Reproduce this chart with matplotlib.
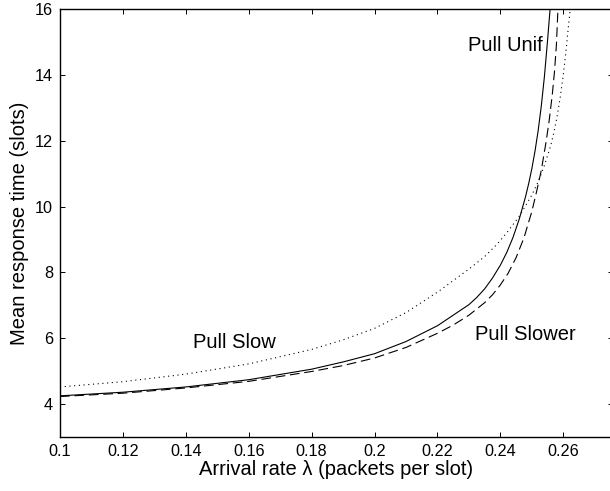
import numpy as np
import matplotlib
matplotlib.use("Agg")
import matplotlib.pyplot as plt

plt.rcParams['font.family'] = ['Liberation Sans', 'DejaVu Sans']
plt.rcParams['lines.scale_dashes'] = False

# Pull Unif (solid)
x_unif = [0.10, 0.12, 0.14, 0.16, 0.18, 0.19, 0.20, 0.21, 0.22, 0.225, 0.23,
          0.2325, 0.235, 0.2375, 0.24, 0.242, 0.244, 0.246, 0.248, 0.249,
          0.250, 0.251, 0.252, 0.253, 0.254, 0.255, 0.2558]
y_unif = [4.25, 4.36, 4.52, 4.74, 5.06, 5.28, 5.53, 5.90, 6.38, 6.70, 7.02,
          7.24, 7.50, 7.83, 8.22, 8.60, 9.06, 9.62, 10.30, 10.70,
          11.15, 11.68, 12.30, 13.05, 13.95, 15.05, 16.0]

# Pull Slower (dashed)
x_slower = [0.10, 0.12, 0.14, 0.16, 0.18, 0.19, 0.20, 0.21, 0.22, 0.225, 0.23,
            0.235, 0.2375, 0.24, 0.2425, 0.245, 0.2475, 0.250, 0.2515, 0.253,
            0.2545, 0.2555, 0.2565, 0.2572, 0.2578, 0.2583]
y_slower = [4.23, 4.33, 4.49, 4.69, 4.99, 5.17, 5.40, 5.72, 6.15, 6.40, 6.70,
            7.08, 7.32, 7.62, 7.98, 8.45, 9.05, 9.85, 10.45, 11.10,
            11.95, 12.60, 13.40, 14.10, 14.90, 16.0]

# Pull Slow (dotted)
x_slow = [0.10, 0.12, 0.14, 0.16, 0.18, 0.19, 0.20, 0.21, 0.22, 0.225, 0.23,
          0.235, 0.239, 0.242, 0.246, 0.250, 0.252, 0.254, 0.256, 0.257,
          0.258, 0.259, 0.260, 0.261, 0.2615, 0.2622]
y_slow = [4.52, 4.68, 4.91, 5.22, 5.66, 5.95, 6.30, 6.78, 7.40, 7.75, 8.10,
          8.48, 8.86, 9.20, 9.70, 10.35, 10.75, 11.25, 11.85, 12.25,
          12.72, 13.30, 14.00, 14.85, 15.35, 16.0]

xticks = [0.1, 0.12, 0.14, 0.16, 0.18, 0.2, 0.22, 0.24, 0.26]
yticks = [4, 6, 8, 10, 12, 14, 16]

fig = plt.figure(figsize=(6.1, 4.91), dpi=100)
ax = fig.add_axes([60/610, 54/491, 553/610, 428/491])

ax.plot(x_unif, y_unif, color='black', linewidth=0.8)
ax.plot(x_slower, y_slower, color='black', linewidth=0.8, dashes=(7.0, 3.4))
ax.plot(x_slow, y_slow, color='black', linewidth=0.8, dashes=(0.8, 2.6))

ax.text(0.2297, 14.72, 'Pull Unif', fontsize=14.5)
ax.text(0.1424, 5.70, 'Pull Slow', fontsize=14.5)
ax.text(0.2320, 5.94, 'Pull Slower', fontsize=14.5)

ax.set_xlim(0.1, 0.2758)
ax.set_ylim(3, 16)
ax.set_xticks(xticks)
ax.set_xticklabels(['%g' % t for t in xticks])
ax.set_yticks(yticks)
ax.tick_params(direction='in', top=True, right=True, length=3.8, width=0.7,
               labelsize=11.7, pad=5)
for s in ax.spines.values():
    s.set_linewidth(1.0)

ax.set_xlabel('Arrival rate λ (packets per slot)', fontsize=14.5, labelpad=1)
ax.set_ylabel('Mean response time (slots)', fontsize=14.5, labelpad=4)

fig.savefig('out.png', dpi=100)
